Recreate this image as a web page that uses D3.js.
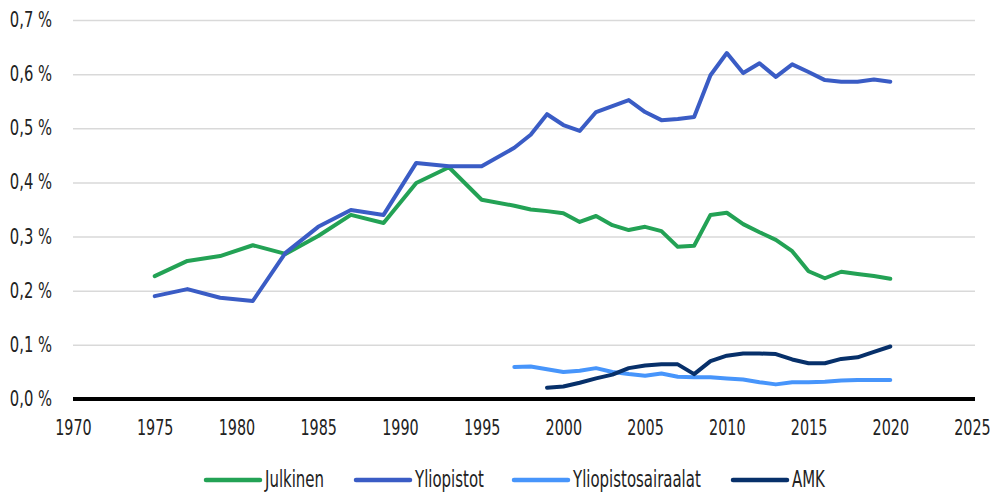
<!DOCTYPE html>
<html>
<head>
<meta charset="utf-8">
<script src="https://cdn.jsdelivr.net/npm/d3@7"></script>
<style>
  body { margin: 0; background: #fff; }
  svg text { font-family: "DejaVu Sans", sans-serif; fill: #222; }
</style>
</head>
<body>
<div id="chart"></div>
<script>
// years: biennial until 1997, annual after
const yearsMain = [1975, 1977, 1979, 1981, 1983, 1985, 1987, 1989, 1991, 1993, 1995, 1997, 1998, 1999,
  2000, 2001, 2002, 2003, 2004, 2005, 2006, 2007, 2008, 2009, 2010, 2011, 2012, 2013, 2014, 2015,
  2016, 2017, 2018, 2019, 2020];
const julkinen = [0.227, 0.255, 0.264, 0.284, 0.268, 0.301, 0.340, 0.325, 0.399, 0.428, 0.368, 0.357, 0.350, 0.347,
  0.343, 0.327, 0.338, 0.321, 0.312, 0.318, 0.310, 0.281, 0.283, 0.340, 0.344, 0.323, 0.308, 0.294, 0.273, 0.236,
  0.223, 0.235, 0.231, 0.227, 0.222];
const yliopistot = [0.190, 0.203, 0.187, 0.181, 0.270, 0.318, 0.349, 0.340, 0.436, 0.430, 0.430, 0.464, 0.488, 0.526,
  0.506, 0.495, 0.530, 0.541, 0.552, 0.530, 0.515, 0.517, 0.521, 0.598, 0.639, 0.602, 0.620, 0.595, 0.618, 0.604,
  0.589, 0.586, 0.586, 0.590, 0.586];
const yearsSair = [1997, 1998, 1999, 2000, 2001, 2002, 2003, 2004, 2005, 2006, 2007, 2008, 2009, 2010, 2011, 2012,
  2013, 2014, 2015, 2016, 2017, 2018, 2019, 2020];
const sairaalat = [0.059, 0.060, 0.055, 0.050, 0.052, 0.057, 0.050, 0.046, 0.043, 0.047, 0.041, 0.040, 0.040, 0.038,
  0.036, 0.031, 0.027, 0.031, 0.031, 0.032, 0.034, 0.035, 0.035, 0.035];
const yearsAmk = [1999, 2000, 2001, 2002, 2003, 2004, 2005, 2006, 2007, 2008, 2009, 2010, 2011, 2012, 2013, 2014,
  2015, 2016, 2017, 2018, 2019, 2020];
const amk = [0.021, 0.023, 0.030, 0.038, 0.045, 0.057, 0.062, 0.064, 0.064, 0.046, 0.070, 0.080, 0.084, 0.084, 0.083,
  0.073, 0.066, 0.066, 0.074, 0.077, 0.087, 0.097];
const yTicks = [0, 0.1, 0.2, 0.3, 0.4, 0.5, 0.6, 0.7];
const xTicks = [1970, 1975, 1980, 1985, 1990, 1995, 2000, 2005, 2010, 2015, 2020, 2025];

const series = [
  {name: "Julkinen", years: yearsMain, values: julkinen, color: "#23a255"},
  {name: "Yliopistot", years: yearsMain, values: yliopistot, color: "#3a5cc5"},
  {name: "Yliopistosairaalat", years: yearsSair, values: sairaalat, color: "#4795fb"},
  {name: "AMK", years: yearsAmk, values: amk, color: "#07306a"}
];

const width = 994, height = 493;
const margin = {top: 20, right: 22, bottom: 94, left: 73};
const fontSize = 20.5;

const x = d3.scaleLinear().domain([1970, 2025]).range([margin.left, width - margin.right]);
const y = d3.scaleLinear().domain([0, 0.7]).range([height - margin.bottom, margin.top]);

const svg = d3.select("#chart").append("svg")
  .attr("width", width)
  .attr("height", height);

// condense text (no narrow font installed): shrink its advance with textLength
const squeeze = (sel, sx) => sel.each(function() {
  const len = this.getComputedTextLength();
  d3.select(this)
    .attr("textLength", (len * sx).toFixed(1))
    .attr("lengthAdjust", "spacingAndGlyphs");
});

// gridlines + y labels
const yAxis = g => g
  .attr("transform", `translate(${margin.left},0)`)
  .call(d3.axisLeft(y).tickValues(yTicks).tickSize(0).tickPadding(21)
    .tickFormat(d => d.toFixed(1).replace(".", ",") + " %"))
  .call(g => g.select(".domain").remove())
  .call(g => g.selectAll(".tick line").clone()
    .attr("x2", x(2025) - margin.left + 3)
    .attr("stroke", "#d9d9d9")
    .attr("stroke-width", 1.5))
  .call(g => g.selectAll(".tick text")
    .attr("font-size", fontSize)
    .attr("fill", "#222"))

const gy = svg.append("g").call(yAxis);
gy.selectAll(".tick text").call(squeeze, 0.72);

// zero line
svg.append("line")
  .attr("x1", x(1970))
  .attr("x2", x(2025) + 3)
  .attr("y1", y(0))
  .attr("y2", y(0))
  .attr("stroke", "#000")
  .attr("stroke-width", 4);

const xAxis = g => g
  .attr("transform", `translate(0,${y(0)})`)
  .call(d3.axisBottom(x).tickValues(xTicks).tickSize(0).tickPadding(21).tickFormat(d3.format("d")))
  .call(g => g.select(".domain").remove())
  .call(g => g.selectAll(".tick text")
    .attr("font-size", fontSize)
    .attr("fill", "#222"))

const gx = svg.append("g").call(xAxis);
gx.selectAll(".tick text").call(squeeze, 0.7);

const line = d3.line()
  .x(d => x(d[0]))
  .y(d => y(d[1]));

svg.append("g")
  .attr("fill", "none")
  .attr("stroke-width", 4)
  .attr("stroke-linejoin", "round")
  .attr("stroke-linecap", "round")
  .selectAll("path")
  .data(series)
  .join("path")
    .attr("stroke", d => d.color)
    .attr("d", d => line(d.years.map((yr, i) => [yr, d.values[i]])));

// legend
const legendX = [206, 356, 514, 733];
const legend = svg.append("g")
  .selectAll("g")
  .data(series)
  .join("g")
    .attr("transform", (d, i) => `translate(${legendX[i]},480)`);
legend.append("line")
  .attr("x1", 0).attr("x2", 54)
  .attr("stroke", d => d.color)
  .attr("stroke-width", 4.5)
  .attr("stroke-linecap", "round");
legend.append("text")
  .attr("x", 59)
  .attr("dy", "0.3em")
  .attr("font-size", 23)
  .text(d => d.name)
  .call(squeeze, 0.65);
</script>
</body>
</html>
